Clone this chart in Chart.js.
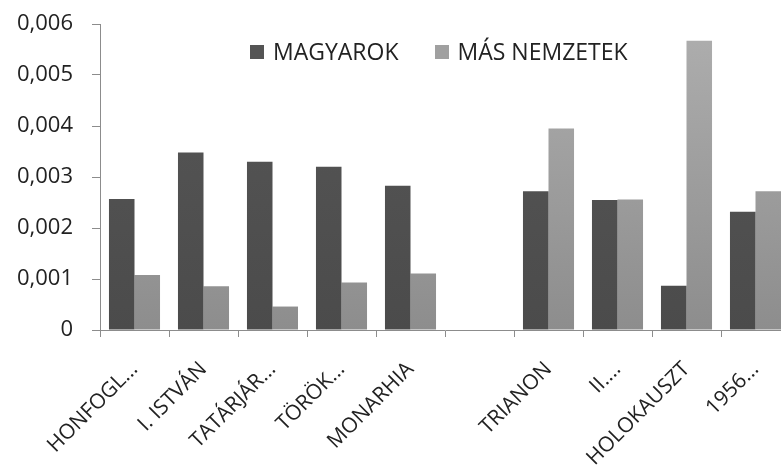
<!DOCTYPE html>
<html>
<head>
<meta charset="utf-8">
<script src="https://cdn.jsdelivr.net/npm/chart.js@4"></script>
<style>
  body { margin: 0; background: #fff; overflow: hidden; }
  .wrap { position: relative; width: 800px; height: 467px; }
  .legend { position: absolute; top: 35px; left: 250px; font-family: "Open Sans", sans-serif; font-size: 23px; color: #222; white-space: nowrap; }
  .legend span.item { display: inline-block; margin-right: 36px; }
  .legend i { display: inline-block; width: 14px; height: 14px; margin-right: 9px; vertical-align: 1px; }
</style>
</head>
<body>
<div class="wrap">
  <canvas id="chart" width="800" height="467"></canvas>
  <div class="legend">
    <span class="item"><i style="background:#545454"></i>MAGYAROK</span><span class="item"><i style="background:#a0a0a0"></i>MÁS NEMZETEK</span>
  </div>
</div>
<script>
// Chart data
const categories = ['HONFOGL...', 'I. ISTVÁN', 'TATÁRJÁR...', 'TÖRÖK...', 'MONARHIA', '', 'TRIANON', 'II....', 'HOLOKAUSZT', '1956...'];
const magyarok = [0.00257, 0.00348, 0.0033, 0.0032, 0.00283, null, 0.00272, 0.00255, 0.00087, 0.00232];
const masNemzetek = [0.00108, 0.00086, 0.00046, 0.00093, 0.00111, null, 0.00395, 0.00256, 0.00567, 0.00272];
const yTicks = [0, 0.001, 0.002, 0.003, 0.004, 0.005, 0.006];

function grad(ctx, top, bottom) {
  const area = ctx.chart.chartArea;
  if (!area) return bottom;
  const g = ctx.chart.ctx.createLinearGradient(0, area.top, 0, area.bottom);
  g.addColorStop(0, top);
  g.addColorStop(1, bottom);
  return g;
}

const axisColor = '#8c8c8c';
const font = { family: '"Open Sans", sans-serif', size: 22 };

new Chart(document.getElementById('chart'), {
  type: 'bar',
  data: {
    labels: categories,
    datasets: [{
      label: 'MAGYAROK',
      data: magyarok,
      backgroundColor: ctx => grad(ctx, '#575757', '#4b4b4b'),
      barPercentage: 1,
      categoryPercentage: 0.74
    }, {
      label: 'MÁS NEMZETEK',
      data: masNemzetek,
      backgroundColor: ctx => grad(ctx, '#aeaeae', '#8d8d8d'),
      barPercentage: 1,
      categoryPercentage: 0.74
    }]
  },
  options: {
    responsive: false,
    animation: false,
    devicePixelRatio: 1,
    layout: { padding: { top: 24, right: 10, left: 0, bottom: 0 } },
    plugins: { legend: { display: false }, tooltip: { enabled: false } },
    scales: {
      x: {
        grid: { drawOnChartArea: false, tickLength: 7, color: axisColor },
        border: { color: axisColor },
        ticks: { color: '#222', font: { family: font.family, size: 21 }, minRotation: 45, maxRotation: 45, padding: 20, autoSkip: false },
        afterFit: scale => { scale.height = 137; scale.paddingLeft = 0; scale.paddingRight = 0; }
      },
      y: {
        min: 0,
        max: 0.006,
        afterBuildTicks: scale => { scale.ticks = yTicks.map(v => ({ value: v })); },
        grid: { drawOnChartArea: false, tickLength: 8, color: axisColor },
        border: { color: axisColor },
        ticks: {
          color: '#222',
          font: font,
          padding: 19,
          callback: v => v === 0 ? '0' : v.toFixed(3).replace('.', ',')
        },
        afterFit: scale => { scale.width = 100; scale.paddingTop = 0; scale.paddingBottom = 0; }
      }
    }
  }
});
</script>
</body>
</html>
